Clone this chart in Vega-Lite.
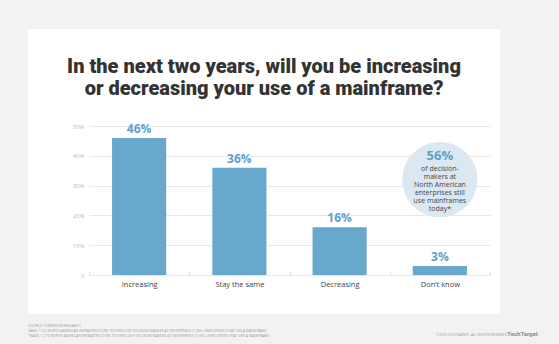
{
  "$schema": "https://vega.github.io/schema/vega-lite/v6.json",
  "width": 472,
  "height": 285,
  "autosize": "none",
  "padding": {"left": 28, "top": 29, "right": 59, "bottom": 30},
  "background": "#f2f2f2",
  "config": {"view": {"fill": "#ffffff", "stroke": null}, "font": "Open Sans"},
  "title": {
    "text": ["In the next two years, will you be increasing", "or decreasing your use of a mainframe?"],
    "anchor": "middle",
    "frame": "group",
    "offset": -70,
    "fontSize": 20,
    "font": "Roboto",
    "fontWeight": 900,
    "color": "#333333",
    "lineHeight": 22
  },
  "datasets": {
    "survey": [
      {"answer": "Increasing", "share": 0.46},
      {"answer": "Stay the same", "share": 0.36},
      {"answer": "Decreasing", "share": 0.16},
      {"answer": "Don’t know", "share": 0.03}
    ],
    "note": [
      {"answer": "Don’t know", "headline": "56%", "body": "of decision-\nmakers at\nNorth American\nenterprises still\nuse mainframes\ntoday*"}
    ]
  },
  "resolve": {"axis": {"y": "independent"}},
  "layer": [
    {
      "data": {"name": "survey"},
      "mark": {"type": "bar", "color": "#68a8cc", "width": {"band": 0.54}},
      "encoding": {
        "x": {
          "field": "answer", "type": "nominal", "sort": null,
          "scale": {"range": [61, 462], "paddingInner": 0, "paddingOuter": 0},
          "axis": {
            "title": ["SOURCE: FORRESTER RESEARCH", "BASE: 1152 NORTH AMERICAN INFRASTRUCTURE TECHNOLOGY DECISION MAKERS AT ENTERPRISES (1,000+ EMPLOYEES) THAT USE A MAINFRAME", "*BASE: 1,273 NORTH AMERICAN INFRASTRUCTURE TECHNOLOGY DECISION MAKERS AT ENTERPRISES (1,000+ EMPLOYEES) THAT USE A MAINFRAME"],
            "orient": "bottom", "offset": -39,
            "domainColor": "#dddddd", "tickBand": "extent", "tickSize": -4, "tickColor": "#dddddd",
            "labelAngle": 0, "labelFontSize": 7.5, "labelColor": "#444444", "labelPadding": 9.5,
            "titleAnchor": "start", "titleAlign": "left", "titleX": 0, "titleY": 48, "titleBaseline": "top",
            "titleFontSize": 3.5, "titleFontWeight": "normal", "titleColor": "#9a9a9a", "titleLineHeight": 5
          }
        },
        "y": {
          "field": "share", "type": "quantitative",
          "scale": {"domain": [0, 0.5], "range": [246, 97], "nice": false},
          "axis": {
            "values": [0, 0.1, 0.2, 0.3, 0.4, 0.5], "offset": -61, "domain": false, "grid": false,
            "tickSize": -401, "tickColor": "#e8e8e8",
            "labelExpr": "datum.value === 0 ? '0' : format(datum.value, '.0%')",
            "labelFontSize": 6, "labelColor": "#bbbbbb", "labelPadding": 406,
            "title": "©2023 TECHTARGET. ALL RIGHTS RESERVED.", "titleAngle": 0, "titleAlign": "right",
            "titleX": 419, "titleY": 305, "titleBaseline": "middle",
            "titleFontSize": 3.5, "titleFontWeight": "normal", "titleColor": "#9a9a9a"
          }
        }
      }
    },
    {
      "data": {"name": "survey"},
      "mark": {"type": "text", "baseline": "bottom", "dy": -2, "fontSize": 12, "fontWeight": "bold", "color": "#5ea1cb"},
      "encoding": {
        "x": {"field": "answer", "type": "nominal", "sort": null},
        "y": {"field": "share", "type": "quantitative", "axis": null},
        "text": {"field": "share", "type": "quantitative", "format": ".0%"}
      }
    },
    {
      "data": {"name": "note"},
      "mark": {"type": "point", "shape": "circle", "filled": true, "opacity": 1, "color": "#dce8f1", "size": 5670, "strokeWidth": 0},
      "encoding": {
        "x": {"field": "answer", "type": "nominal", "sort": null},
        "y": {"datum": 0.32, "type": "quantitative", "axis": null}
      }
    },
    {
      "data": {"name": "note"},
      "mark": {"type": "text", "baseline": "middle", "dy": -24, "fontSize": 13, "fontWeight": "bold", "color": "#5ea1cb"},
      "encoding": {
        "x": {"field": "answer", "type": "nominal", "sort": null},
        "y": {"datum": 0.32, "type": "quantitative", "axis": null},
        "text": {"field": "headline"}
      }
    },
    {
      "data": {"name": "note"},
      "mark": {"type": "text", "baseline": "middle", "dy": -11, "fontSize": 7, "lineHeight": 8.1, "lineBreak": "\n", "color": "#444444"},
      "encoding": {
        "x": {"field": "answer", "type": "nominal", "sort": null},
        "y": {
          "datum": 0.32, "type": "quantitative",
          "axis": {
            "orient": "right", "labels": false, "ticks": false, "domain": false, "grid": false,
            "title": "TechTarget", "titleAngle": 0, "titleX": 22, "titleY": 304, "titleAlign": "center", "titleBaseline": "middle",
            "titleFontSize": 6, "titleFontWeight": "bold", "titleColor": "#8a8a8a", "titleFont": "Roboto"
          }
        },
        "text": {"field": "body"}
      }
    }
  ]
}
